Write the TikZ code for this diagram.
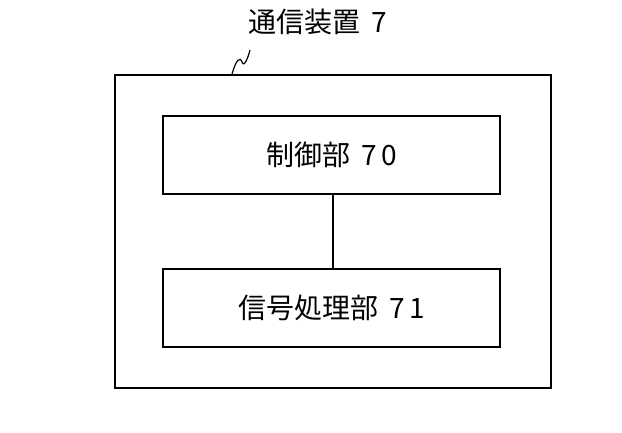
\documentclass[tikz,border=0pt]{standalone}
\usepackage{fontspec}
\newfontfamily\cjk{Noto Sans CJK JP}
\begin{document}
\begin{tikzpicture}[x=1pt,y=-1pt,
  box/.style={draw,line width=1.6pt,minimum width=337pt,minimum height=78pt,font=\cjk\fontsize{28}{32}\selectfont}]
\useasboundingbox (0,0) rectangle (622,433);
\node[draw,line width=1.6pt,minimum width=436pt,minimum height=313pt] (outer) at (333,231.5) {};
\node[box] (a) at (331.5,155) {制御部\hspace{0.4em}7\hspace{0.15em}0};
\node[box] (b) at (331.5,308) {信号処理部\hspace{0.4em}7\hspace{0.15em}1};
\draw[line width=1.6pt] (a.south -| 333,0) -- (b.north -| 333,0);
\node[font=\cjk\fontsize{28}{32}\selectfont] (t) at (318,22) {通信装置\hspace{0.4em}7};
\coordinate (s) at (250,50);
\draw[line width=1.2pt] (232,75 |- outer.north) .. controls (236,60) and (240,56) .. (242,62) .. controls (244,68) and (248,58) .. (s);
\end{tikzpicture}
\end{document}
